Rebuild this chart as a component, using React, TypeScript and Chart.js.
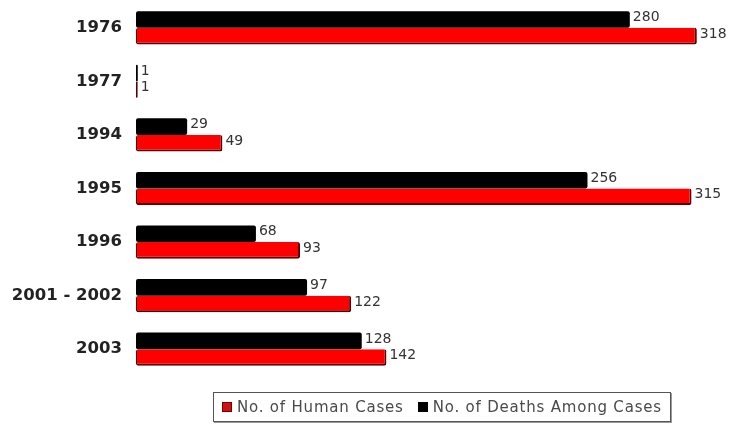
import React, { useEffect, useRef } from "react";
import { Chart, registerables } from "chart.js";

Chart.register(...registerables);

const categories = ["1976", "1977", "1994", "1995", "1996", "2001 - 2002", "2003"];
const deaths = [280, 1, 29, 256, 68, 97, 128];
const cases = [318, 1, 49, 315, 93, 122, 142];
const casesName = "No. of Human Cases";
const deathsName = "No. of Deaths Among Cases";
const xMin = 0;
const xMax = 330;

const valueLabels = {
  id: "valueLabels",
  afterDatasetsDraw(chart: any) {
    const ctx = chart.ctx;
    ctx.save();
    ctx.font = "14px 'DejaVu Sans'";
    ctx.fillStyle = "#333";
    ctx.textAlign = "left";
    ctx.textBaseline = "middle";
    chart.data.datasets.forEach((ds: any, i: number) => {
      const meta = chart.getDatasetMeta(i);
      meta.data.forEach((bar: any, j: number) => {
        ctx.fillText(String(ds.data[j]), bar.x + 3, bar.y - 2);
      });
    });
    ctx.restore();
  },
};

export default function App() {
  const canvasRef = useRef<HTMLCanvasElement | null>(null);

  useEffect(() => {
    document.body.style.margin = "0";
    const chart = new Chart(canvasRef.current as HTMLCanvasElement, {
      type: "bar",
      data: {
        labels: categories,
        datasets: [
          {
            label: deathsName,
            data: deaths,
            backgroundColor: "#000000",
            borderColor: "#000000",
            borderWidth: 0,
            borderRadius: 2,
            borderSkipped: false,
            barPercentage: 1,
            categoryPercentage: 0.62,
          },
          {
            label: casesName,
            data: cases,
            backgroundColor: "#ff0000",
            borderColor: "#5a0000",
            borderWidth: { top: 0, left: 1, right: 2, bottom: 2 },
            borderRadius: 2,
            borderSkipped: false,
            barPercentage: 1,
            categoryPercentage: 0.62,
          },
        ],
      },
      options: {
        indexAxis: "y",
        animation: false,
        responsive: false,
        maintainAspectRatio: false,
        layout: { padding: { top: 1, bottom: 48, left: 0, right: 17 } },
        plugins: {
          legend: { display: false },
          tooltip: { enabled: false },
          title: { display: false },
        },
        scales: {
          x: { display: false, min: xMin, max: xMax },
          y: {
            grid: { display: false, drawTicks: false },
            border: { display: false },
            ticks: {
              color: "#222",
              padding: 14,
              font: { family: "'DejaVu Sans'", size: 16.5, weight: "bold" },
            },
            afterFit(scale: any) {
              scale.width = 136;
              scale.paddingTop = 0;
              scale.paddingBottom = 0;
            },
          },
        },
      },
      plugins: [valueLabels],
    });
    return () => chart.destroy();
  }, []);

  const square = (color: string, border: string): React.CSSProperties => ({
    display: "inline-block",
    width: 10,
    height: 10,
    boxSizing: "border-box",
    background: color,
    border: `1px solid ${border}`,
    marginRight: 5,
    flex: "0 0 auto",
  });

  return (
    <div style={{ position: "fixed", left: 0, top: 0, width: 735, height: 424, background: "#fff" }}>
      <canvas ref={canvasRef} width={735} height={424} style={{ position: "absolute", left: 0, top: 0 }} />
      <div
        style={{
          position: "absolute",
          left: 213,
          top: 392,
          width: 458,
          height: 30,
          boxSizing: "border-box",
          border: "1px solid #555",
          boxShadow: "1px 1px 0 #999",
          display: "flex",
          alignItems: "center",
          paddingLeft: 8,
          fontFamily: "'DejaVu Sans'",
          fontSize: 15,
          letterSpacing: "0.8px",
          color: "#4a4a4a",
          whiteSpace: "nowrap",
        }}
      >
        <span style={square("#d01010", "#700")} />
        <span style={{ marginRight: 14 }}>{casesName}</span>
        <span style={square("#000", "#000")} />
        <span>{deathsName}</span>
      </div>
    </div>
  );
}
